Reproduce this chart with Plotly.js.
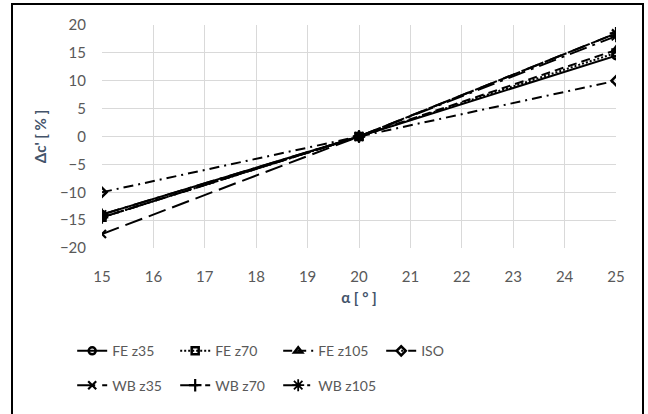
<!DOCTYPE html>
<html>
<head>
<meta charset="utf-8">
<script src="https://cdn.plot.ly/plotly-3.0.1.min.js"></script>
<style>
  html, body { margin: 0; padding: 0; background: #fff; }
  #chart { position: absolute; left: 0; top: 0; width: 648px; height: 414px; }
  #frame { position: absolute; left: 11px; top: 3px; width: 629px; height: 420px;
           border: 2px solid #000; pointer-events: none; }
</style>
</head>
<body>
<div id="chart"></div>
<div id="frame"></div>
<script>
// Angle α [°]
const alpha = [15, 20, 25];

// Relative change Δc' [%] per model
const feZ35  = [-14.0, 0, 14.5];
const feZ70  = [-14.5, 0, 15.0];
const feZ105 = [-14.5, 0, 15.5];
const iso    = [-10.0, 0, 10.0];
const wbZ35  = [-17.5, 0, 18.5];
const wbZ70  = [-14.5, 0, 18.5];
const wbZ105 = [-14.0, 0, 18.0];

const seriesNames = ['FE z35', 'FE z70', 'FE z105', 'ISO', 'WB z35', 'WB z70', 'WB z105'];
const seriesValues = [feZ35, feZ70, feZ105, iso, wbZ35, wbZ70, wbZ105];
const seriesDash = ['solid', '2px,2px', '9px,5px', '10px,5px,2px,5px',
                    '18px,7px', '18px,7px', '18px,6px,3px,6px'];
const seriesSymbol = ['circle-open', 'square-open', 'triangle-up-open', 'diamond-open',
                      'x-thin-open', 'cross-thin-open', 'asterisk-open'];
const seriesMarkerSize = [7, 7, 7, 7, 8, 9, 10];
const seriesMarkerLine = [2.5, 2.5, 2.5, 2.5, 2.2, 2.2, 1.8];
const seriesLegend = ['legend', 'legend', 'legend', 'legend', 'legend2', 'legend2', 'legend2'];

const traces = seriesNames.map((name, i) => ({
  type: 'scatter',
  mode: 'lines+markers',
  name: name,
  x: alpha,
  y: seriesValues[i],
  legend: seriesLegend[i],
  line: { color: '#000', width: 2, dash: seriesDash[i] },
  marker: { symbol: seriesSymbol[i], size: seriesMarkerSize[i], color: '#000',
            line: { color: '#000', width: seriesMarkerLine[i] } }
}));

const FONT = 'Lato, "Open Sans", sans-serif';
const tickFont = { family: FONT, size: 15, color: '#595959' };
const legendFont = { family: FONT, size: 14, color: '#595959' };
const titleFont = { family: FONT, size: 15, color: '#44546a', weight: 'bold' };

const legendBase = {
  orientation: 'h', xanchor: 'left', yanchor: 'middle',
  x: -0.058, font: legendFont, bgcolor: 'rgba(0,0,0,0)',
  itemwidth: 30, entrywidth: 58, entrywidthmode: 'pixels', tracegroupgap: 0
};

const layout = {
  width: 648,
  height: 414,
  margin: { l: 102, r: 32, t: 25, b: 162 },
  paper_bgcolor: '#fff',
  plot_bgcolor: '#fff',
  showlegend: true,
  xaxis: {
    range: [15, 25],
    dtick: 1,
    tick0: 15,
    showgrid: true,
    gridcolor: '#d9d9d9',
    gridwidth: 1,
    zeroline: false,
    showline: false,
    ticks: '',
    ticklabelstandoff: 18,
    tickfont: tickFont,
    title: { text: 'α [ ° ]', standoff: 8, font: titleFont }
  },
  yaxis: {
    range: [-20, 20],
    dtick: 5,
    showgrid: true,
    gridcolor: '#d9d9d9',
    gridwidth: 1,
    zeroline: false,
    showline: false,
    ticks: '',
    ticklabelstandoff: 15,
    tickfont: tickFont,
    title: { text: 'Δc\' [ % ]', standoff: 9, font: titleFont }
  },
  legend: Object.assign({}, legendBase, { y: -0.463 }),
  legend2: Object.assign({}, legendBase, { y: -0.617 })
};

Plotly.newPlot('chart', traces, layout, { staticPlot: true, displayModeBar: false });
</script>
</body>
</html>
